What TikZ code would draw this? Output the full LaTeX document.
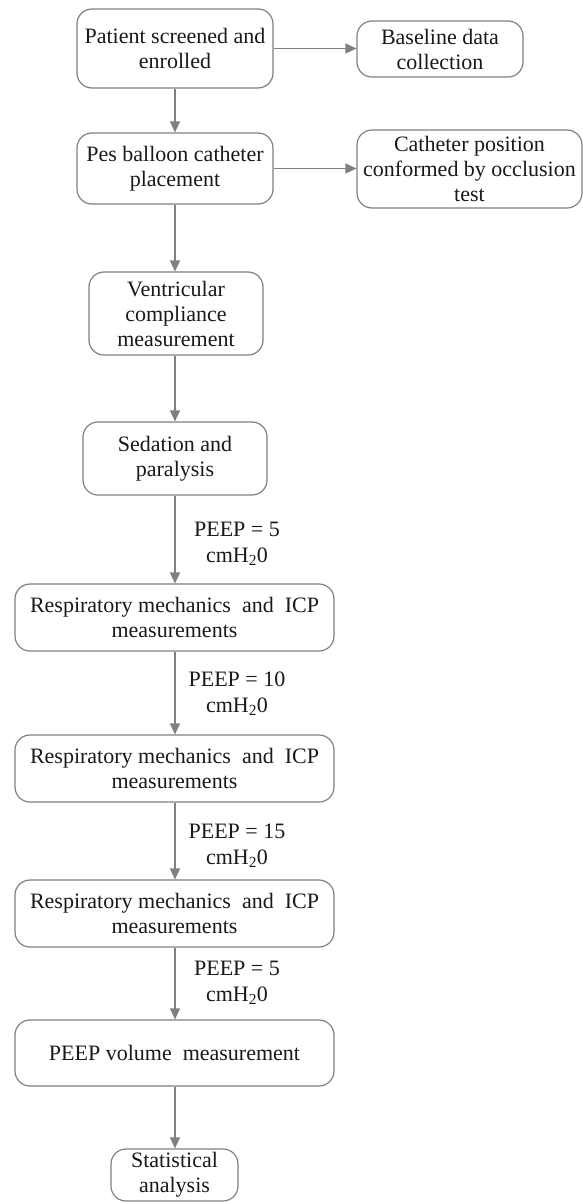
\documentclass[tikz,border=0pt]{standalone}
\usepackage{fontspec}
\setmainfont{Liberation Serif}
\usetikzlibrary{arrows.meta}
\definecolor{linegray}{RGB}{128,128,128}
\definecolor{txt}{RGB}{25,25,25}
\begin{document}
\begin{tikzpicture}[x=1pt,y=-1pt,
 box/.style={draw=linegray, line width=1.2pt, rounded corners=15pt, align=center, inner sep=0pt, text=txt, font=\fontsize{22}{25}\selectfont},
 arr/.style={draw=linegray, line width=1.5pt, -{Triangle[length=11pt,width=10pt]}},
 lbl/.style={align=center, inner sep=0pt, text=txt, font=\fontsize{22}{26}\selectfont}]
\useasboundingbox (0,0) rectangle (583,1202);
\node[box, minimum width=196pt, minimum height=79pt] (b1) at (175,48.5) {Patient screened and\\enrolled};
\node[box, minimum width=166pt, minimum height=56pt] (base) at (440,49) {Baseline data\\collection};
\node[box, minimum width=196pt, minimum height=71pt] (b2) at (175,168.5) {Pes balloon catheter\\placement};
\node[box, minimum width=225pt, minimum height=78pt] (cath) at (469.5,169) {Catheter position\\conformed by occlusion\\test};
\node[box, minimum width=174pt, minimum height=83pt] (b3) at (176,313.5) {Ventricular\\compliance\\measurement};
\node[box, minimum width=184pt, minimum height=73pt] (b4) at (175,458.5) {Sedation and\\paralysis};
\node[box, minimum width=319pt, minimum height=67pt] (b5) at (174.5,617.5) {Respiratory mechanics\ \ and\ \ ICP\\measurements};
\node[box, minimum width=319pt, minimum height=67pt] (b6) at (174.5,768.5) {Respiratory mechanics\ \ and\ \ ICP\\measurements};
\node[box, minimum width=319pt, minimum height=67pt] (b7) at (174.5,913.5) {Respiratory mechanics\ \ and\ \ ICP\\measurements};
\node[box, minimum width=319pt, minimum height=66pt] (b8) at (174.5,1053) {PEEP volume\ \ measurement};
\node[box, minimum width=127pt, minimum height=52pt] (b9) at (174.5,1175) {Statistical\\analysis};

\draw[arr] (b1.east) -- (base.west |- b1.east);
\draw[arr] (b2.east) -- (cath.west |- b2.east);
\draw[arr] (b1.south -| 175,0) -- (b2.north -| 175,0);
\draw[arr] (b2.south -| 175,0) -- (b3.north -| 175,0);
\draw[arr] (b3.south -| 175,0) -- (b4.north -| 175,0);
\draw[arr] (b4.south -| 175,0) -- (b5.north -| 175,0);
\draw[arr] (b5.south -| 175,0) -- (b6.north -| 175,0);
\draw[arr] (b6.south -| 175,0) -- (b7.north -| 175,0);
\draw[arr] (b7.south -| 175,0) -- (b8.north -| 175,0);
\draw[arr] (b8.south -| 175,0) -- (b9.north -| 175,0);

\node[lbl] (l1) at (237,544) {PEEP = 5\\cmH\textsubscript{2}0};
\node[lbl] (l2) at (237,693.5) {PEEP = 10\\cmH\textsubscript{2}0};
\node[lbl] (l3) at (237,846) {PEEP = 15\\cmH\textsubscript{2}0};
\node[lbl] (l4) at (237,983) {PEEP = 5\\cmH\textsubscript{2}0};
\end{tikzpicture}
\end{document}
